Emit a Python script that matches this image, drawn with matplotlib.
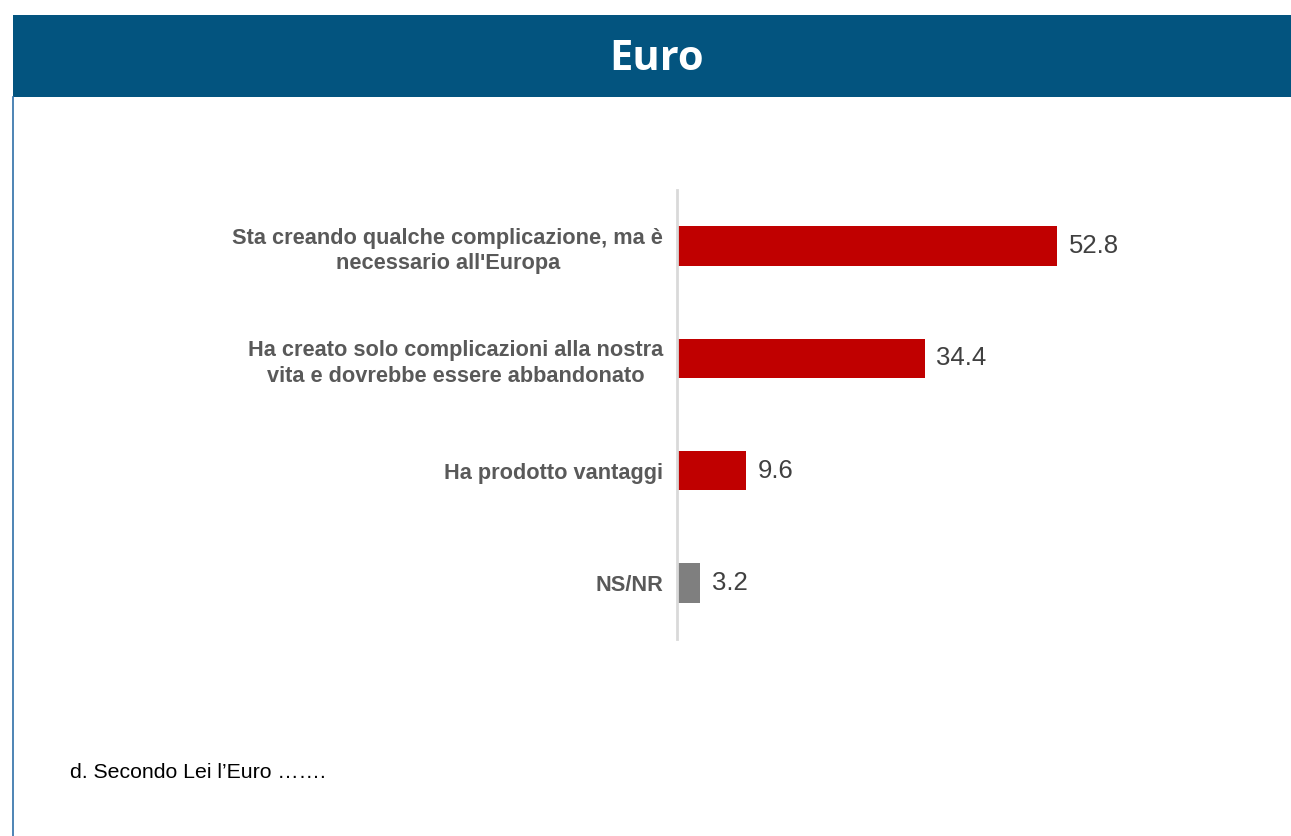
import matplotlib.pyplot as plt
from matplotlib.patches import Rectangle

# dati
categorie = [
    "Sta creando qualche complicazione, ma è\nnecessario all'Europa",
    "Ha creato solo complicazioni alla nostra\nvita e dovrebbe essere abbandonato",
    "Ha prodotto vantaggi",
    "NS/NR",
]
valori = [52.8, 34.4, 9.6, 3.2]
colori = ["#C00000", "#C00000", "#C00000", "#7F7F7F"]
titolo = "Euro"
nota = "d. Secondo Lei l\u2019Euro \u2026\u2026."

W, H = 1291, 836
fig = plt.figure(figsize=(W / 100, H / 100), dpi=100)
fig.patch.set_facecolor("white")

# banda del titolo
fig.patches.append(Rectangle((13 / W, 1 - 97 / H), 1 - 13 / W, 82 / H,
                             transform=fig.transFigure, facecolor="#03547F",
                             edgecolor="none", zorder=0))
fig.text(657 / W, 1 - 60 / H, titolo, color="white", fontsize=30,
         fontweight="bold", family="Open Sans", ha="center", va="center")

# bordo sinistro
fig.add_artist(plt.Line2D([13 / W, 13 / W], [0, 1 - 97 / H],
                          transform=fig.transFigure, color="#2F6FA8", lw=1.2))

# area del grafico
x0, y_top, y_bot = 677, 190, 639
px_per_unit = (1057 - 677) / 52.8
xmax = 60
ax = fig.add_axes([x0 / W, 1 - y_bot / H, xmax * px_per_unit / W, (y_bot - y_top) / H])
pos = list(range(len(valori)))
ax.barh(pos, valori, height=0.35, color=colori, zorder=2)
ax.set_xlim(0, xmax)
ax.set_ylim(len(valori) - 0.5, -0.5)
for s in ["top", "right", "bottom"]:
    ax.spines[s].set_visible(False)
ax.spines["left"].set_color("#D9D9D9")
ax.spines["left"].set_linewidth(2)
ax.set_xticks([])
ax.set_yticks(pos)
ax.set_yticklabels(categorie, fontsize=15.7, fontweight="bold", color="#595959",
                   family="Liberation Sans", multialignment="center", linespacing=1.3)
ax.tick_params(axis="y", length=0, pad=10)

for p, v in zip(pos, valori):
    ax.text(v + 1.6, p, f"{v:.1f}", va="center", ha="left", fontsize=18.5,
            color="#404040", family="Liberation Sans")

fig.text(70 / W, 1 - 773 / H, nota, fontsize=15.3, color="#000000",
         family="Liberation Sans", ha="left", va="center")

fig.savefig("out.png", dpi=100)
